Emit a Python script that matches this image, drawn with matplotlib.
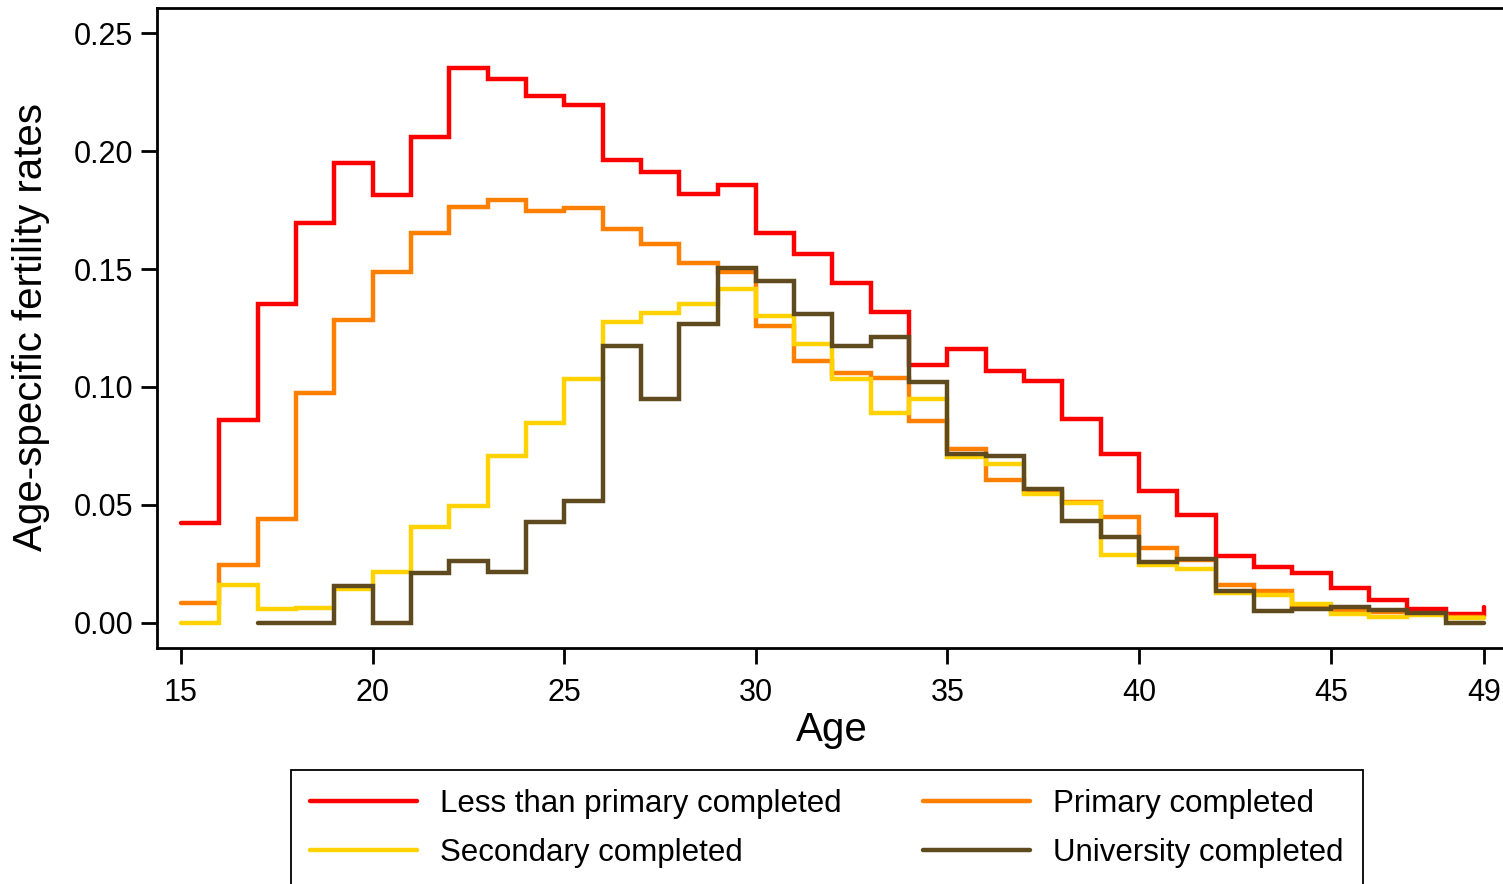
import numpy as np
import matplotlib
matplotlib.use('Agg')
import matplotlib.pyplot as plt

# Age-specific fertility rates by completed education, single years of age
ages = list(range(15, 50))

less_primary = [0.0425, 0.0860, 0.1352, 0.1696, 0.1948, 0.1812, 0.2061, 0.2350,
                0.2305, 0.2232, 0.2196, 0.1962, 0.1911, 0.1819, 0.1855, 0.1651,
                0.1562, 0.1439, 0.1318, 0.1095, 0.1161, 0.1069, 0.1025, 0.0863,
                0.0715, 0.0560, 0.0456, 0.0285, 0.0236, 0.0210, 0.0147, 0.0097,
                0.0059, 0.0037, 0.0067]

primary = [0.0083, 0.0246, 0.0441, 0.0973, 0.1284, 0.1486, 0.1651, 0.1764,
           0.1794, 0.1746, 0.1760, 0.1671, 0.1606, 0.1524, 0.1486, 0.1257,
           0.1110, 0.1061, 0.1040, 0.0857, 0.0737, 0.0606, 0.0553, 0.0514,
           0.0450, 0.0316, 0.0267, 0.0160, 0.0135, 0.0062, 0.0050, 0.0045,
           0.0040, 0.0027, 0.0027]

secondary = [0.0000, 0.0161, 0.0058, 0.0065, 0.0143, 0.0217, 0.0408, 0.0497,
             0.0708, 0.0846, 0.1034, 0.1274, 0.1315, 0.1352, 0.1415, 0.1302,
             0.1181, 0.1036, 0.0890, 0.0948, 0.0704, 0.0674, 0.0545, 0.0507,
             0.0290, 0.0245, 0.0227, 0.0127, 0.0119, 0.0080, 0.0039, 0.0026,
             0.0032, 0.0020, 0.0020]

# university series has no observations before age 17
univ_ages = list(range(17, 50))
university = [0.0000, 0.0000, 0.0158, 0.0000, 0.0210, 0.0264, 0.0215, 0.0429,
              0.0518, 0.1175, 0.0949, 0.1267, 0.1505, 0.1449, 0.1309, 0.1175,
              0.1211, 0.1021, 0.0714, 0.0709, 0.0568, 0.0432, 0.0363, 0.0260,
              0.0270, 0.0137, 0.0049, 0.0058, 0.0066, 0.0057, 0.0043, 0.0000,
              0.0000]

labels = ['Less than primary completed', 'Primary completed',
          'Secondary completed', 'University completed']
colors = ['#FF0000', '#FF8000', '#FFD200', '#5E4A1E']

xticks = [15, 20, 25, 30, 35, 40, 45, 49]
yticks = [0.00, 0.05, 0.10, 0.15, 0.20, 0.25]

plt.rcParams['font.family'] = ['Liberation Sans', 'DejaVu Sans']

W, H = 1503, 884
fig = plt.figure(figsize=(W / 100, H / 100), dpi=100)
# plot region in pixels: left 157, right 1507 (just past the edge), top 8, bottom 648
ax = fig.add_axes([157 / W, (H - 648) / H, 1350 / W, 640 / H])

series = [(ages, less_primary), (ages, primary), (ages, secondary),
          (univ_ages, university)]
lines = []
for (x, y), lab, col in zip(series, labels, colors):
    ln, = ax.step(x, y, where='post', color=col, lw=3.2, label=lab,
                  solid_capstyle='round', solid_joinstyle='miter')
    lines.append(ln)

ax.set_xlim(14.374, 49.6)
ax.set_ylim(-0.0106, 0.2606)
ax.set_xticks(xticks)
ax.set_yticks(yticks)
ax.set_yticklabels([f'{v:.2f}' for v in yticks])

for side in ['left', 'bottom', 'top', 'right']:
    ax.spines[side].set_linewidth(2.0)
ax.tick_params(axis='both', direction='out', length=11.5, width=2.0,
               labelsize=22, colors='black')
ax.tick_params(axis='y', pad=5.5)
ax.tick_params(axis='x', pad=10)

ax.set_xlabel('Age', fontsize=29)
ax.set_ylabel('Age-specific fertility rates', fontsize=29)
ax.xaxis.set_label_coords(0.5, -0.098)
ax.yaxis.set_label_coords(-0.079, 0.502)

# legend: two columns, row-wise order
order = [0, 2, 1, 3]
leg = fig.legend([lines[i] for i in order], [labels[i] for i in order],
                 ncol=2, loc='upper left',
                 bbox_to_anchor=(291 / W, 1 - 770 / H), borderaxespad=0,
                 fontsize=22.5, frameon=True, fancybox=False,
                 edgecolor='black', handlelength=3.42, handletextpad=0.74,
                 borderpad=0.62, columnspacing=2.6, labelspacing=0.6)
leg.get_frame().set_linewidth(1.3)
leg.get_frame().set_alpha(1)

fig.savefig('out.png', dpi=100)
